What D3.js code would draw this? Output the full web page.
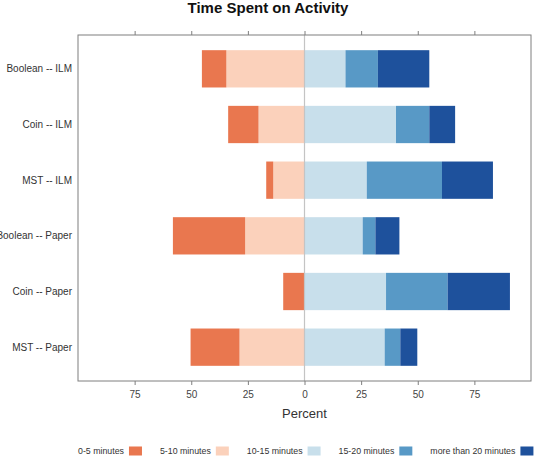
<!DOCTYPE html>
<html><head><meta charset="utf-8">
<script src="https://cdn.jsdelivr.net/npm/d3@7"></script>
<style>body{margin:0;background:#fff;}svg{display:block;font-family:"Liberation Sans",Arial,Helvetica,sans-serif;}</style>
</head><body>
<svg id="chart" width="537" height="459"></svg>
<script>
const categories = ["Boolean -- ILM","Coin -- ILM","MST -- ILM","Boolean -- Paper","Coin -- Paper","MST -- Paper"];
const levels = ["0-5 minutes","5-10 minutes","10-15 minutes","15-20 minutes","more than 20 minutes"];
const min0to5   = [10.8, 13.4,  3.1, 31.9,  9.4, 21.6];
const min5to10  = [34.5, 20.3, 13.8, 26.2,  0.0, 28.7];
const min10to15 = [18.1, 40.4, 27.5, 25.7, 36.0, 35.4];
const min15to20 = [14.3, 14.7, 33.2,  5.6, 27.2,  6.9];
const minOver20 = [22.7, 11.4, 22.5, 10.6, 27.5,  7.5];
const xTicks = [-75,-50,-25,0,25,50,75];
const colors = ["#E9774F","#FBD1BB","#C8DFEB","#5899C6","#1E519C"];

const svg = d3.select("#chart");
const L = 78, R = 531, T = 35, B = 381;
const x = d3.scaleLinear().domain([-100,100]).range([L,R]);
const y = d3.scaleBand().domain(categories).range([T+6,B-6]);
const bh = y.bandwidth()*0.67;

const series = [min0to5, min5to10, min10to15, min15to20, minOver20];
const segs = [];
categories.forEach((c,i)=>{
  const a = min5to10[i], b = min0to5[i];
  segs.push({c, lvl:1, x0:-a, x1:0});
  segs.push({c, lvl:0, x0:-(a+b), x1:-a});
  let cum = 0;
  [2,3,4].forEach(k=>{ const v = series[k][i]; segs.push({c, lvl:k, x0:cum, x1:cum+v}); cum += v; });
});

svg.append("g").selectAll("rect").data(segs.filter(d=>d.x1-d.x0>0)).join("rect")
  .attr("x", d=>x(d.x0)).attr("width", d=>x(d.x1)-x(d.x0))
  .attr("y", d=>y(d.c)+(y.bandwidth()-bh)/2).attr("height", bh)
  .attr("fill", d=>colors[d.lvl]);

svg.append("line").attr("x1",x(0)).attr("x2",x(0)).attr("y1",T).attr("y2",B)
  .attr("stroke","#C4C4C4").attr("stroke-width",1.2);

svg.append("rect").attr("x",L).attr("y",T).attr("width",R-L).attr("height",B-T)
  .attr("fill","none").attr("stroke","#7F7F7F").attr("stroke-width",1);

const fmt = d=>Math.abs(d);
const gB = svg.append("g").attr("transform",`translate(0,${B})`)
  .call(d3.axisBottom(x).tickValues(xTicks).tickFormat(fmt).tickSize(4).tickPadding(6).tickSizeOuter(0));
gB.select(".domain").remove();
gB.selectAll("line").attr("stroke","#7F7F7F");
gB.selectAll("text").attr("font-size","10px").attr("fill","#444").attr("font-family","Liberation Sans, Arial, sans-serif");

const gT = svg.append("g").attr("transform",`translate(0,${T})`)
  .call(d3.axisTop(x).tickValues(xTicks).tickFormat("").tickSize(4).tickSizeOuter(0));
gT.select(".domain").remove();
gT.selectAll("line").attr("stroke","#7F7F7F");

svg.append("g").selectAll("text").data(categories).join("text")
  .attr("x", L-6).attr("y", d=>y(d)+y.bandwidth()/2).attr("dy","0.35em")
  .attr("text-anchor","end").attr("font-size","10px").attr("fill","#333").text(d=>d);

svg.append("text").attr("x",268).attr("y",13).attr("text-anchor","middle")
  .attr("font-size","15px").attr("font-weight","bold").attr("fill","#111").text("Time Spent on Activity");

svg.append("text").attr("x",(L+R)/2).attr("y",418).attr("text-anchor","middle")
  .attr("font-size","13px").attr("fill","#333").text("Percent");

const lg = svg.append("g");
let lx = 78;
levels.forEach((lv,i)=>{
  const t = lg.append("text").attr("x",lx).attr("y",451).attr("dy","0.35em")
    .attr("font-size","8.8px").attr("fill","#333").text(lv);
  const w = t.node().getComputedTextLength();
  lg.append("rect").attr("x",lx+w+5).attr("y",446.5).attr("width",13).attr("height",9).attr("fill",colors[i]);
  lx = lx + w + 5 + 13 + 18;
});
</script>
</body></html>
